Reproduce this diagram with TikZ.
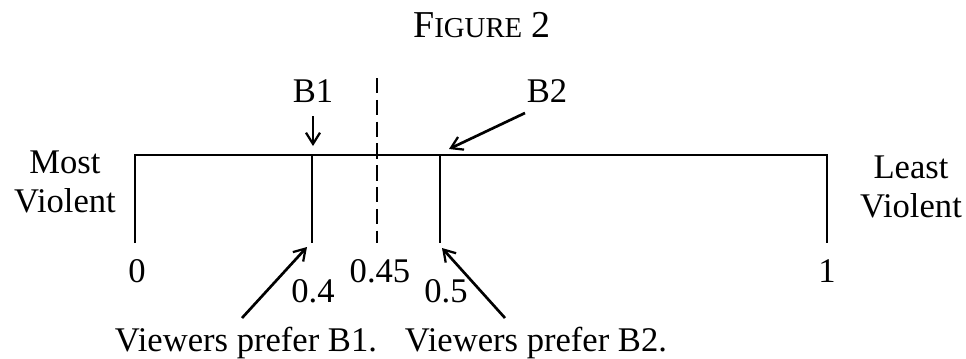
\documentclass[tikz,border=0pt]{standalone}
\usepackage{fontspec}
\setmainfont{Liberation Serif}
\usepackage{tikz}
\usetikzlibrary{positioning,arrows.meta}

\begin{document}
\begin{tikzpicture}[
    x=0.025cm, y=-0.025cm,
    lbl/.style={inner sep=0pt, font=\fontsize{24.6}{27.5}\selectfont, align=center},
    axisline/.style={line width=1.7pt},
    pointer/.style={-{Straight Barb[length=2.8mm, width=3.5mm, line width=1.6pt]}, line width=1.9pt},
    cutline/.style={line width=1.5pt, dash pattern=on 11pt off 4.5pt}
]
\useasboundingbox (0,0) rectangle (966,358);
% title
\node[lbl, anchor=base] (title) at (482,37) {\fontsize{27}{30}\selectfont F{\fontsize{20.5}{22}\selectfont IGURE} 2};
% axis with ticks
\coordinate (a0) at (135,155);
\coordinate (a1) at (827,155);
\coordinate (a04) at (312,155);
\coordinate (a05) at (440,155);
\coordinate (z0) at (135,243);
\coordinate (z1) at (827,243);
\coordinate (z04) at (312,243);
\coordinate (z05) at (440,243);
\coordinate (cuttop) at (377,78);
\coordinate (cutbot) at (377,243);
\draw[axisline] (z0) -- (a0) -- (a1) -- (z1);
\draw[axisline] (a04) -- (z04);
\draw[axisline] (a05) -- (z05);
\draw[cutline] (cuttop) -- (cutbot);
% end labels
\node[lbl, anchor=south] (most) at (65,213) {Most\\Violent};
\node[lbl, anchor=south] (least) at (911,218) {Least\\Violent};
% tick values
\node[lbl, anchor=base] (v0) at (137,282) {0};
\node[lbl, anchor=base] (v04) at (313,302) {0.4};
\node[lbl, anchor=base] (v045) at (380,282) {0.45};
\node[lbl, anchor=base] (v05) at (446,302) {0.5};
\node[lbl, anchor=base] (v1) at (827,282) {1};
% brands
\node[lbl, anchor=base] (b1) at (313,102) {B1};
\node[lbl, anchor=base] (b2) at (547,102) {B2};
\coordinate (b1tail) at (313,116);
\coordinate (b1tip) at (313,146);
\coordinate (b2tail) at (525,113);
\coordinate (b2tip) at (449,149);
\draw[pointer] (b1tail) -- (b1tip);
\draw[pointer] (b2tail) -- (b2tip);
% viewers
\node[lbl, anchor=base] (pref1) at (246,351) {Viewers prefer B1.};
\node[lbl, anchor=base] (pref2) at (536,351) {Viewers prefer B2.};
\coordinate (p1tail) at (242,318);
\coordinate (p1tip) at (307,247);
\coordinate (p2tail) at (505,318);
\coordinate (p2tip) at (442,248);
\draw[pointer] (p1tail) -- (p1tip);
\draw[pointer] (p2tail) -- (p2tip);
\end{tikzpicture}
\end{document}
